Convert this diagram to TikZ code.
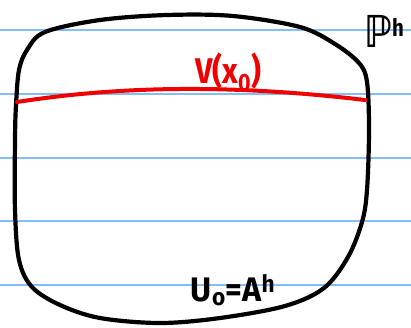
\documentclass[tikz,border=0pt]{standalone}
\usepackage{fontspec}
\setmainfont{Fira Sans}
\newfontfamily\dejabold{DejaVu Sans}
\definecolor{ruled}{RGB}{130,190,250}
\definecolor{pen}{RGB}{240,0,0}
\tikzset{
  ruleline/.style={draw=ruled, line width=1.6pt},
  outline/.style={draw=black, line width=4.2pt, line join=round, line cap=round},
  redline/.style={draw=pen, line width=4pt, line cap=round},
  hand/.style={inner sep=0pt, font=\fontsize{34}{34}\selectfont\bfseries}
}
\begin{document}
\begin{tikzpicture}[x=1pt,y=-1pt]
\useasboundingbox (0,0) rectangle (411,327);
% ruled paper lines
\foreach \yy/\nm in {30/a,94/b,158/c,221/d,285/e}{
  \coordinate (L\nm) at (0,\yy);
  \coordinate (R\nm) at (411,\yy);
  \draw[ruleline] (L\nm) -- (R\nm);
}
% closed outline
\draw[outline] plot[smooth cycle, tension=0.55] coordinates {
 (45,32) (100,20) (167,15) (233,16) (300,27) (335,44) (359,63) (367,82)
 (369,130) (367,190) (362,222) (348,257) (324,288) (285,306) (220,318)
 (160,323) (100,318) (60,305) (32,287) (19,260) (15,210) (15,140)
 (16,105) (19,70) (27,50)};
% red curve V(x0)
\coordinate (r1) at (17,102);
\coordinate (r2) at (365,100);
\draw[redline] (r1) .. controls (120,86) and (230,84) .. (r2);
\node[hand, text=pen, xscale=0.9, yscale=1.05] (vx) at (228,72) {V(x\textsubscript{0})};
% labels
\node[hand, xscale=0.85] (ph) at (384,31) {{\fontsize{44}{44}\selectfont\dejabold\bfseries ℙ}\raisebox{11pt}{\fontsize{24}{24}\selectfont h}};
\node[hand, xscale=0.95] (u0) at (233,290) {U\textsubscript{o}=A\textsuperscript{h}};
\end{tikzpicture}
\end{document}
